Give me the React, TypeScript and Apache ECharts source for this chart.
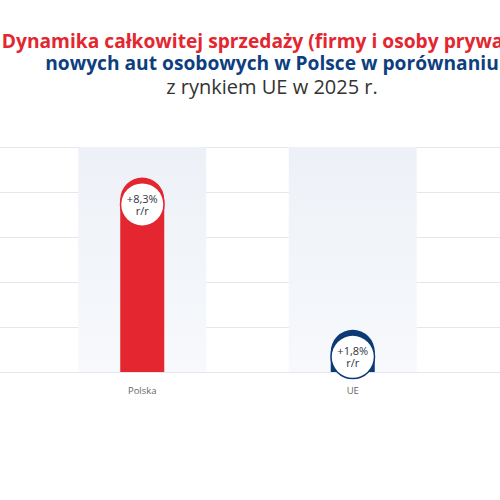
import React, { useEffect, useRef } from "react";
import * as echarts from "echarts";

const titleLines = [
  "Dynamika całkowitej sprzedaży (firmy i osoby prywatne)",
  "nowych aut osobowych w Polsce w porównaniu",
  "z rynkiem UE w 2025 r.",
];
const categories = ["Polska", "UE"];
const growthValues = [8.3, 1.8];
const growthLabels = ["+8,3%", "+1,8%"];
const labelSuffix = "r/r";
const barColors = ["#E3262F", "#0B3A75"];
const axisMax = 9.6;
const axisInterval = 1.92;

const FONT = "Open Sans";

const App: React.FC = () => {
  const chartRef = useRef<HTMLDivElement>(null);

  useEffect(() => {
    if (!chartRef.current) return;
    const chart = echarts.init(chartRef.current, undefined, { renderer: "svg" });

    const valueAxis = {
      type: "value",
      min: 0,
      max: axisMax,
      interval: axisInterval,
      axisLabel: { show: false },
      axisLine: { show: false },
      axisTick: { show: false },
    };

    chart.setOption({
      animation: false,
      backgroundColor: "#fff",
      title: [
        {
          text: titleLines[0],
          left: 272,
          top: 31,
          textAlign: "center",
          padding: 0,
          textStyle: { color: "#E3262F", fontSize: 19.2, fontWeight: "bold", fontFamily: FONT },
        },
        {
          text: titleLines[1],
          left: 272,
          top: 53,
          textAlign: "center",
          padding: 0,
          textStyle: { color: "#0D3F80", fontSize: 19.2, fontWeight: "bold", fontFamily: FONT },
        },
        {
          text: titleLines[2],
          left: 272,
          top: 76,
          textAlign: "center",
          padding: 0,
          textStyle: { color: "#333", fontSize: 20, fontWeight: "normal", fontFamily: FONT },
        },
      ],
      grid: [
        { left: 0, right: 0, top: 147, bottom: 128 },
        { left: 37, right: 42, top: 147, bottom: 128 },
      ],
      xAxis: [
        { type: "category", gridIndex: 0, data: [""], show: false },
        {
          type: "category",
          gridIndex: 1,
          data: categories,
          axisLine: { show: false },
          axisTick: { show: false },
          axisLabel: { color: "#666", fontSize: 9.5, margin: 13, fontFamily: FONT },
        },
        { type: "category", gridIndex: 1, data: categories, show: false },
      ],
      yAxis: [
        {
          ...valueAxis,
          gridIndex: 0,
          splitLine: { lineStyle: { color: "#E3E6EB", width: 1 } },
        },
        { ...valueAxis, gridIndex: 1, splitLine: { show: false } },
      ],
      series: [
        {
          type: "bar",
          xAxisIndex: 2,
          yAxisIndex: 1,
          silent: true,
          barWidth: 128,
          data: categories.map(() => axisMax),
          itemStyle: {
            color: new echarts.graphic.LinearGradient(0, 0, 0, 1, [
              { offset: 0, color: "#EDF1F7" },
              { offset: 1, color: "#F7F9FC" },
            ]),
          },
        },
        {
          type: "bar",
          xAxisIndex: 1,
          yAxisIndex: 1,
          barWidth: 44,
          data: growthValues.map((v, i) => ({
            value: v,
            itemStyle: { color: barColors[i], borderRadius: [22, 22, 0, 0] },
            label: { borderColor: barColors[i] },
          })),
          label: {
            show: true,
            position: "insideTop",
            distance: 6,
            formatter: (p: any) => growthLabels[p.dataIndex] + "\n" + labelSuffix,
            color: "#2F3542",
            fontSize: 11,
            lineHeight: 12,
            fontFamily: FONT,
            backgroundColor: "#fff",
            borderWidth: 1.5,
            borderRadius: 22,
            width: 42,
            padding: [9, 0, 9, 0],
            align: "center",
          },
        },
      ],
    });

    return () => chart.dispose();
  }, []);

  return (
    <div
      ref={chartRef}
      style={{ position: "fixed", left: 0, top: 0, width: 500, height: 500 }}
    />
  );
};

export default App;
